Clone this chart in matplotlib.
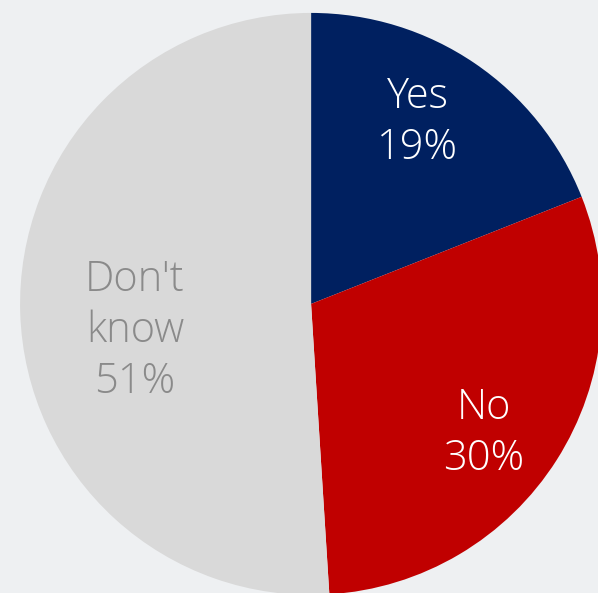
import matplotlib
matplotlib.use("Agg")
import matplotlib.pyplot as plt

categories = ["Yes", "No", "Don't\nknow"]
values = [19, 30, 51]
colors = ["#002060", "#c00000", "#d9d9d9"]
text_colors = ["white", "white", "#8a8a8a"]

fig = plt.figure(figsize=(5.98, 5.93), dpi=100)
fig.patch.set_facecolor("#eef0f2")
ax = fig.add_axes([0, 0, 1, 1])
ax.set_facecolor("#eef0f2")

wedges, _ = ax.pie(values, colors=colors, startangle=90, counterclock=False,
                   radius=1.0, wedgeprops=dict(linewidth=0))

label_pos = [(0.366, 0.625), (0.593, -0.445), (-0.605, -0.092)]
for cat, v, (x, y), tc in zip(categories, values, label_pos, text_colors):
    ax.text(x, y, f"{cat}\n{v}%", ha="center", va="center", color=tc,
            fontsize=30, family=["Open Sans", "DejaVu Sans"], fontweight="light",
            linespacing=1.27)

ax.set_xlim(-1.069, 0.986)
ax.set_ylim(-0.993, 1.044)
ax.set_aspect("equal")
ax.axis("off")
fig.savefig("out.png", dpi=100, facecolor=fig.get_facecolor())
